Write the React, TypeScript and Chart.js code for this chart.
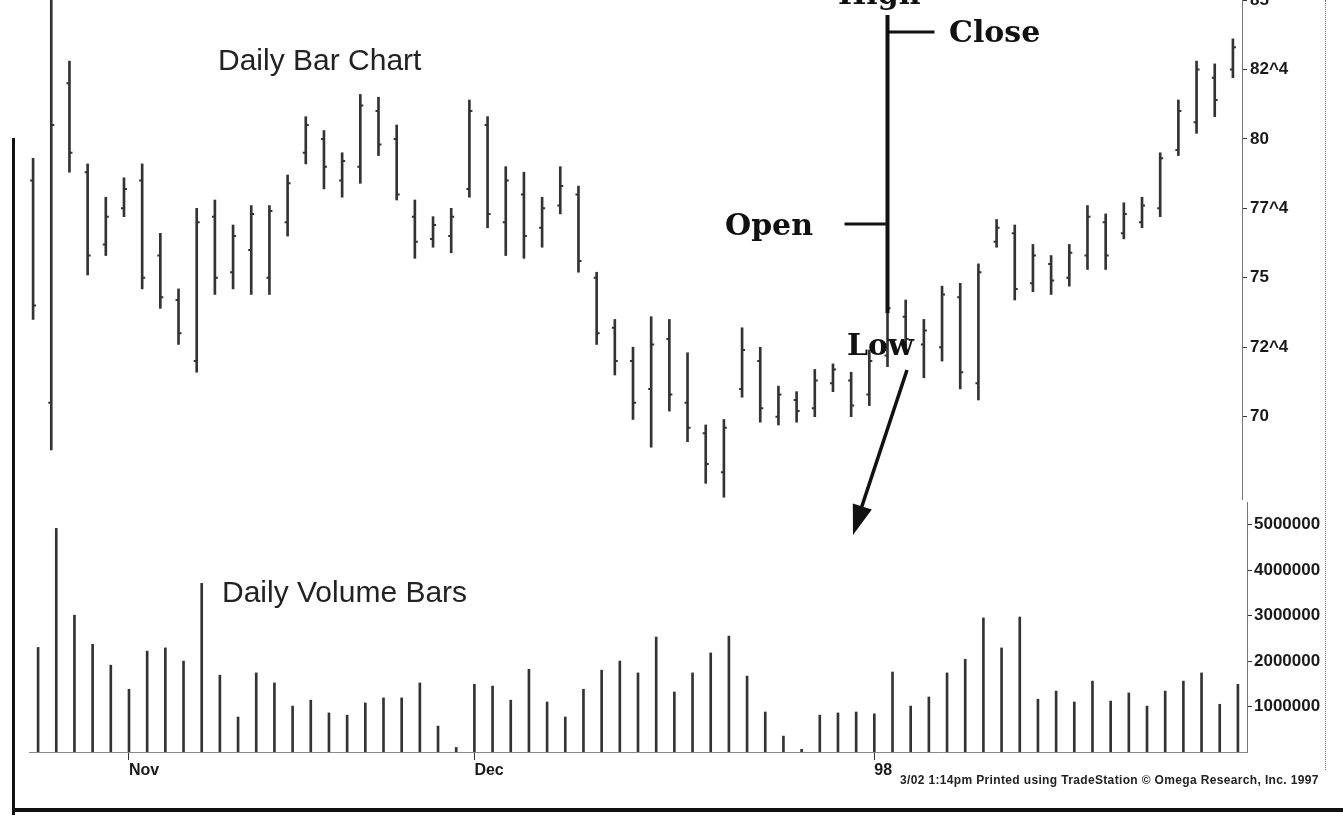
import React, { useEffect, useRef } from "react";
import { Chart, registerables } from "chart.js";

Chart.register(...registerables);

// Trading days (Oct 27 1997 - Feb 2 1998)
const dates = [
  "10/27", "10/28", "10/29", "10/30", "10/31",
  "11/3", "11/4", "11/5", "11/6", "11/7",
  "11/10", "11/11", "11/12", "11/13", "11/14",
  "11/17", "11/18", "11/19", "11/20", "11/21",
  "11/24", "11/25", "11/26", "11/28",
  "12/1", "12/2", "12/3", "12/4", "12/5",
  "12/8", "12/9", "12/10", "12/11", "12/12",
  "12/15", "12/16", "12/17", "12/18", "12/19",
  "12/22", "12/23", "12/24", "12/26",
  "12/29", "12/30", "12/31",
  "1/2", "1/5", "1/6", "1/7", "1/8", "1/9",
  "1/12", "1/13", "1/14", "1/15", "1/16",
  "1/20", "1/21", "1/22", "1/23",
  "1/26", "1/27", "1/28", "1/29", "1/30",
  "2/2",
];

const highs = [
  79.3, 85.5, 82.8, 79.1, 77.9, 78.6, 79.1, 76.6, 74.6, 77.5,
  77.8, 76.9, 77.6, 77.6, 78.7, 80.8, 80.3, 79.5, 81.6, 81.5,
  80.5, 77.8, 77.2, 77.5, 81.4, 80.8, 79.0, 78.8, 77.9, 79.0,
  78.3, 75.2, 73.5, 72.5, 73.6, 73.5, 72.3, 69.7, 69.9, 73.2,
  72.5, 71.1, 70.9, 71.7, 71.9, 71.6, 72.4, 74.5, 74.2, 73.5,
  74.7, 74.8, 75.5, 77.1, 76.9, 76.2, 75.8, 76.2, 77.6, 77.3,
  77.7, 77.9, 79.5, 81.4, 82.8, 82.7, 83.6,
];

const lows = [
  73.5, 68.8, 78.8, 75.1, 75.8, 77.2, 74.6, 73.9, 72.6, 71.6,
  74.4, 74.6, 74.4, 74.4, 76.5, 79.1, 78.2, 77.9, 78.4, 79.4,
  77.8, 75.7, 76.1, 75.9, 77.9, 76.8, 75.8, 75.7, 76.1, 77.3,
  75.2, 72.6, 71.5, 69.9, 68.9, 70.2, 69.1, 67.6, 67.1, 70.7,
  69.8, 69.7, 69.8, 70.0, 70.9, 70.0, 70.4, 71.8, 72.4, 71.4,
  72.0, 71.0, 70.6, 76.1, 74.2, 74.5, 74.4, 74.7, 75.3, 75.3,
  76.4, 76.8, 77.2, 79.4, 80.2, 80.8, 82.2,
];

const opens = [
  78.5, 70.5, 82.0, 78.8, 76.2, 77.5, 78.5, 75.8, 74.2, 72.0,
  77.2, 75.2, 76.0, 75.0, 77.0, 79.5, 80.0, 78.5, 79.0, 81.0,
  80.0, 77.2, 76.4, 76.5, 78.2, 80.5, 77.0, 78.0, 76.8, 77.6,
  78.0, 75.0, 73.2, 72.0, 71.0, 72.8, 70.5, 69.4, 68.0, 71.0,
  72.0, 70.0, 70.6, 70.3, 71.2, 71.3, 70.8, 72.2, 73.6, 72.6,
  72.5, 74.3, 71.2, 76.3, 76.6, 74.8, 75.5, 75.0, 75.8, 77.0,
  76.6, 77.0, 77.5, 79.6, 80.6, 82.2, 82.5,
];

const closes = [
  74.0, 80.5, 79.5, 75.8, 77.2, 78.2, 75.0, 74.3, 73.0, 77.0,
  75.0, 76.5, 77.3, 77.4, 78.4, 80.5, 79.0, 79.2, 81.2, 79.8,
  78.0, 76.3, 76.9, 77.2, 81.0, 77.3, 78.5, 76.5, 77.5, 78.3,
  75.6, 73.0, 72.0, 70.5, 72.6, 70.8, 69.6, 68.3, 69.6, 72.4,
  70.3, 70.8, 70.2, 71.3, 71.7, 70.4, 72.0, 73.9, 72.8, 73.1,
  74.4, 71.6, 75.2, 76.8, 74.6, 75.8, 74.9, 75.9, 77.2, 75.8,
  77.3, 77.6, 79.3, 81.0, 82.5, 81.4, 83.3,
];

const volumes = [
  2300000, 4920000, 3010000, 2370000, 1910000, 1380000, 2220000, 2290000, 2000000, 3710000,
  1690000, 770000, 1740000, 1520000, 1010000, 1140000, 860000, 810000, 1080000, 1190000,
  1190000, 1520000, 570000, 100000, 1490000, 1450000, 1140000, 1820000, 1100000, 770000,
  1380000, 1800000, 2000000, 1740000, 2530000, 1320000, 1740000, 2180000, 2550000, 1670000,
  880000, 350000, 60000, 810000, 860000, 880000, 840000, 1760000, 1010000, 1210000,
  1740000, 2040000, 2950000, 2290000, 2970000, 1160000, 1340000, 1100000, 1560000, 1120000,
  1300000, 1010000, 1340000, 1560000, 1740000, 1050000, 1490000,
];

const priceTicks = [70, 72.5, 75, 77.5, 80, 82.5, 85];
const priceTickLabels = ["70", "72^4", "75", "77^4", "80", "82^4", "85"];
const volumeTicks = [1000000, 2000000, 3000000, 4000000, 5000000];
const volumeTickLabels = ["1000000", "2000000", "3000000", "4000000", "5000000"];
const monthStartDates = ["11/3", "12/1", "1/2"];
const monthLabels = ["Nov", "Dec", "98"];

// Illustrative bar drawn over the 1/5 session
const exampleDate = "1/5";
const exampleHigh = 84.46;
const exampleClose = 83.85;
const exampleOpen = 76.94;
const exampleLow = 73.73;

const INK = "#333333";
const tickFont = { family: "'Liberation Sans', Arial, sans-serif", size: 17, weight: "bold" as const };

const ohlcPlugin = {
  id: "ohlcTicks",
  afterDatasetsDraw(chart: any) {
    const { ctx, chartArea } = chart;
    const x = chart.scales.x;
    const y = chart.scales.y;
    ctx.save();
    ctx.beginPath();
    ctx.rect(chartArea.left, chartArea.top, chartArea.right - chartArea.left, chartArea.bottom - chartArea.top);
    ctx.clip();
    ctx.strokeStyle = INK;
    ctx.lineWidth = 2;
    for (let i = 0; i < dates.length; i++) {
      const px = x.getPixelForValue(i);
      const yo = y.getPixelForValue(opens[i]);
      const yc = y.getPixelForValue(closes[i]);
      ctx.beginPath();
      ctx.moveTo(px - 3, yo);
      ctx.lineTo(px, yo);
      ctx.moveTo(px, yc);
      ctx.lineTo(px + 3, yc);
      ctx.stroke();
    }
    // example annotated bar
    const ei = dates.indexOf(exampleDate);
    const ex = x.getPixelForValue(ei);
    ctx.strokeStyle = "#111";
    ctx.lineWidth = 4;
    ctx.beginPath();
    ctx.moveTo(ex, y.getPixelForValue(exampleHigh));
    ctx.lineTo(ex, y.getPixelForValue(exampleLow));
    ctx.stroke();
    ctx.lineWidth = 3;
    ctx.beginPath();
    ctx.moveTo(ex, y.getPixelForValue(exampleClose));
    ctx.lineTo(ex + 47, y.getPixelForValue(exampleClose));
    ctx.moveTo(ex - 43, y.getPixelForValue(exampleOpen));
    ctx.lineTo(ex, y.getPixelForValue(exampleOpen));
    ctx.stroke();
    ctx.restore();
  },
};

function PriceChart() {
  const ref = useRef<HTMLCanvasElement>(null);
  useEffect(() => {
    const chart = new Chart(ref.current as HTMLCanvasElement, {
      type: "bar",
      data: {
        labels: dates,
        datasets: [
          {
            label: "Price",
            data: lows.map((l, i) => [l, highs[i]]) as any,
            backgroundColor: INK,
            borderWidth: 0,
            barThickness: 2,
          },
        ],
      },
      options: {
        responsive: false,
        animation: false,
        layout: { padding: { left: 24, top: 0, right: 0, bottom: 0 } },
        plugins: { legend: { display: false }, tooltip: { enabled: false } },
        scales: {
          x: { type: "category", display: false, offset: true },
          y: {
            position: "right",
            min: 67,
            max: 85,
            afterBuildTicks: (axis: any) => {
              axis.ticks = priceTicks.map((v) => ({ value: v }));
            },
            afterFit: (s: any) => {
              s.width = 101;
              s.paddingTop = 0;
              s.paddingBottom = 0;
            },
            ticks: {
              color: "#1a1a1a",
              font: tickFont,
              padding: 3,
              callback: (v: any) => {
                const k = priceTicks.indexOf(Number(v));
                return k >= 0 ? priceTickLabels[k] : "";
              },
            },
            grid: { drawOnChartArea: false, drawTicks: true, tickLength: 5, color: "#333" },
            border: { display: true, color: "#777", dash: [2, 3] },
          },
        },
      },
      plugins: [ohlcPlugin],
    });
    return () => chart.destroy();
  }, []);
  return (
    <canvas
      ref={ref}
      width={1343}
      height={500}
      style={{ position: "absolute", left: 0, top: 0, width: 1343, height: 500 }}
    />
  );
}

function VolumeChart() {
  const ref = useRef<HTMLCanvasElement>(null);
  useEffect(() => {
    const chart = new Chart(ref.current as HTMLCanvasElement, {
      type: "bar",
      data: {
        labels: dates,
        datasets: [
          {
            label: "Volume",
            data: volumes,
            backgroundColor: INK,
            borderWidth: 0,
            barThickness: 2,
          },
        ],
      },
      options: {
        responsive: false,
        animation: false,
        layout: { padding: { left: 29, top: 2, right: 0, bottom: 0 } },
        plugins: { legend: { display: false }, tooltip: { enabled: false } },
        scales: {
          x: {
            type: "category",
            offset: true,
            afterFit: (s: any) => {
              s.height = 65;
              s.paddingLeft = 0;
              s.paddingRight = 0;
            },
            ticks: {
              autoSkip: false,
              maxRotation: 0,
              minRotation: 0,
              align: "start",
              padding: 1,
              color: "#1a1a1a",
              font: { family: "'Liberation Sans', Arial, sans-serif", size: 16, weight: "bold" },
              callback: (_v: any, i: number) => {
                const k = monthStartDates.indexOf(dates[i]);
                return k >= 0 ? monthLabels[k] : "";
              },
            },
            grid: {
              offset: false,
              drawOnChartArea: false,
              drawTicks: true,
              tickLength: 8,
              color: (c: any) =>
                monthStartDates.indexOf(dates[c.index]) >= 0 ? "#333" : "rgba(0,0,0,0)",
            },
            border: { display: true, color: "#888", dash: [2, 3] },
          },
          y: {
            position: "right",
            min: 0,
            max: 5500000,
            afterBuildTicks: (axis: any) => {
              axis.ticks = volumeTicks.map((v) => ({ value: v }));
            },
            afterFit: (s: any) => {
              s.width = 96;
              s.paddingTop = 0;
              s.paddingBottom = 0;
            },
            ticks: {
              color: "#1a1a1a",
              font: tickFont,
              padding: 2,
              callback: (v: any) => {
                const k = volumeTicks.indexOf(Number(v));
                return k >= 0 ? volumeTickLabels[k] : "";
              },
            },
            grid: { drawOnChartArea: false, drawTicks: true, tickLength: 5, color: "#333" },
            border: { display: true, color: "#777", dash: [2, 3] },
          },
        },
      },
    });
    return () => chart.destroy();
  }, []);
  return (
    <canvas
      ref={ref}
      width={1343}
      height={317}
      style={{ position: "absolute", left: 0, top: 500, width: 1343, height: 317 }}
    />
  );
}

const sans: React.CSSProperties = {
  position: "absolute",
  fontFamily: "'Liberation Sans', Arial, sans-serif",
  fontSize: 30,
  lineHeight: "30px",
  color: "#222",
  whiteSpace: "nowrap",
};

const serif: React.CSSProperties = {
  position: "absolute",
  fontFamily: "'DejaVu Serif', serif",
  fontWeight: "bold",
  fontSize: 30,
  lineHeight: "30px",
  color: "#111",
  whiteSpace: "nowrap",
};

export default function App() {
  return (
    <div
      style={{
        position: "absolute",
        left: 0,
        top: 0,
        width: 1343,
        height: 817,
        background: "#fff",
        overflow: "hidden",
      }}
    >
      <PriceChart />
      <VolumeChart />
      <div style={{ ...sans, left: 218, top: 45 }}>Daily Bar Chart</div>
      <div style={{ ...sans, left: 222, top: 577 }}>Daily Volume Bars</div>
      <div style={{ ...serif, left: 838, top: -21 }}>High</div>
      <div style={{ ...serif, left: 949, top: 17 }}>Close</div>
      <div style={{ ...serif, left: 725, top: 210 }}>Open</div>
      <div style={{ ...serif, left: 847, top: 330 }}>Low</div>
      <svg
        width={1343}
        height={817}
        style={{ position: "absolute", left: 0, top: 0, pointerEvents: "none" }}
      >
        <line x1={907} y1={370} x2={860} y2={512} stroke="#111" strokeWidth={3.5} />
        <polygon points="853,535 852.8,503.4 871.8,509.6" fill="#111" />
      </svg>
      <div
        style={{
          position: "absolute",
          left: 1325,
          top: 0,
          width: 0,
          height: 770,
          borderLeft: "1px dotted #777",
        }}
      />
      <div style={{ position: "absolute", left: 12, top: 138, width: 3, height: 677, background: "#111" }} />
      <div style={{ position: "absolute", left: 12, top: 808, width: 1331, height: 4, background: "#111" }} />
      <div
        style={{
          position: "absolute",
          left: 900,
          top: 773,
          fontFamily: "'Liberation Sans', Arial, sans-serif",
          fontSize: 12,
          fontWeight: "bold",
          letterSpacing: "0.35px",
          color: "#222",
          whiteSpace: "nowrap",
          lineHeight: "14px",
        }}
      >
        3/02 1:14pm Printed using TradeStation © Omega Research, Inc. 1997
      </div>
    </div>
  );
}
